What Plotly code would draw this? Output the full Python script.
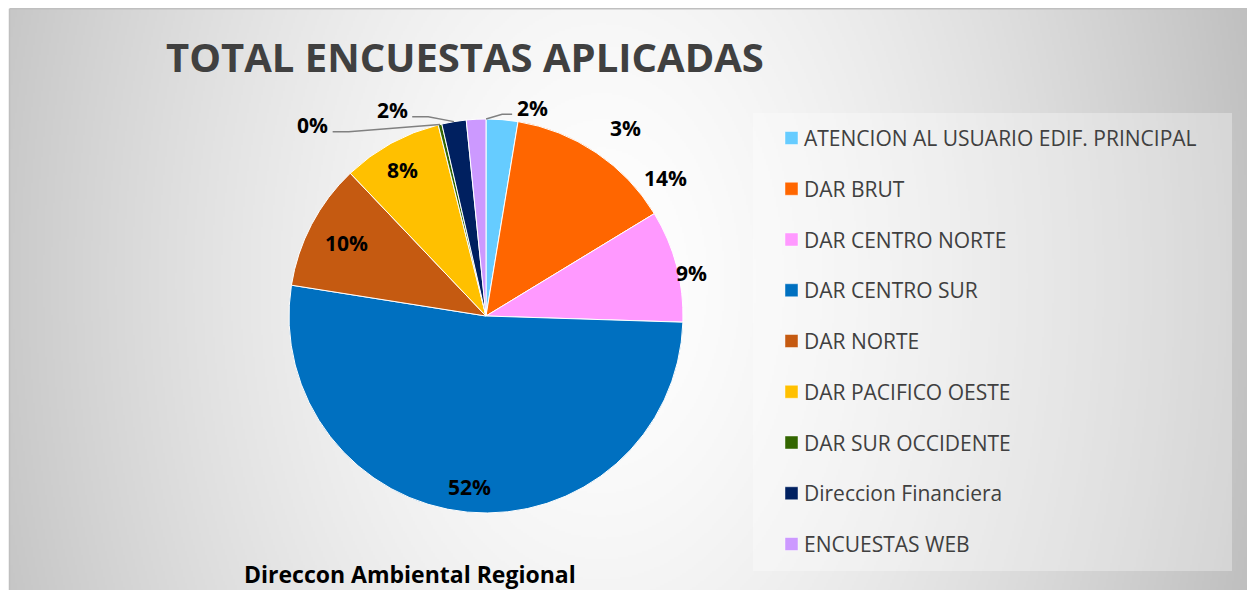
import base64
import math
import struct
import zlib

import numpy as np
import plotly.graph_objects as go

# ---------------- data ----------------
categories = [
    "ATENCION AL USUARIO EDIF. PRINCIPAL",
    "DAR BRUT",
    "DAR CENTRO NORTE",
    "DAR CENTRO SUR",
    "DAR NORTE",
    "DAR PACIFICO OESTE",
    "DAR SUR OCCIDENTE",
    "Direccion Financiera",
    "ENCUESTAS WEB",
]
values = [2.6, 13.7, 9.2, 52.0, 10.4, 8.2, 0.3, 2.0, 1.6]
colors = ["#66CCFF", "#FF6600", "#FF99FF", "#0070C0", "#C55A11",
          "#FFC000", "#336600", "#002060", "#CC99FF"]
title_text = "TOTAL ENCUESTAS APLICADAS"
subtitle_text = "Direccon Ambiental Regional"

# ---------------- style / layout constants ----------------
W, H = 1255, 590
OFF = 8                            # page body margin of the html page
CX, CY, R = 486, 316, 197          # pie centre / radius in page pixels
FONT = "Open Sans"

# per-label placement (angle offset in degrees from slice middle, radius factor)
label_angle_offset = [31.8, 18.4, 3.0, 0.0, 0.0, -1.1, -28.7, -15.1, 15.4]
label_radius = [1.19, 1.15, 1.066, 0.873, 0.80, 0.853, 1.31, 1.15, 1.08]
# leader line: None / 'left' / 'right' side of label, anchor angle offset
leader_side = [None, None, None, None, None, None, "right", "right", "left"]
leader_anchor = [0, 0, 0, 0, 0, 0, 0, 0, 2.9]
label_half_w = 15


def px2paper(px, py):
    """page pixel -> paper coordinates"""
    return (px - OFF) / W, 1 - (py - OFF) / H


# ---------------- background gradient (decoration) ----------------
def gray_png_uri(arr):
    h, w = arr.shape
    raw = b"".join(b"\x00" + arr[r].tobytes() for r in range(h))

    def chunk(tag, data):
        c = struct.pack(">I", len(data)) + tag + data
        return c + struct.pack(">I", zlib.crc32(tag + data) & 0xFFFFFFFF)

    png = b"\x89PNG\r\n\x1a\n"
    png += chunk(b"IHDR", struct.pack(">IIBBBBB", w, h, 8, 0, 0, 0, 0))
    png += chunk(b"IDAT", zlib.compress(raw, 9))
    png += chunk(b"IEND", b"")
    return "data:image/png;base64," + base64.b64encode(png).decode()


BG_PX0, BG_PY0 = 10, 8            # page pixel of the gradient's top-left
bw, bh = (W + OFF - BG_PX0) // 2, (H + OFF - BG_PY0) // 2
xs = (np.arange(bw) * 2 + BG_PX0)[None, :]
ys = (np.arange(bh) * 2 + BG_PY0)[:, None]
t = np.sqrt(((xs - 600) / 655.0) ** 2 + ((ys - 280) / 1000.0) ** 2)
t = np.clip(t, 0, 1.15)
bg = np.clip(255 - 61 * t ** 1.5, 0, 255).astype(np.uint8)
bg_uri = gray_png_uri(bg)

# ---------------- figure ----------------
fig = go.Figure()
d_x0, d_y1 = px2paper(CX - R, CY - R)
d_x1, d_y0 = px2paper(CX + R, CY + R)
fig.add_trace(go.Pie(
    labels=categories,
    values=values,
    marker=dict(colors=colors, line=dict(color="white", width=1)),
    sort=False,
    direction="clockwise",
    rotation=0,
    textinfo="none",
    hoverinfo="label+percent",
    showlegend=False,
    domain=dict(x=[d_x0, d_x1], y=[d_y0, d_y1]),
))

annotations = []
shapes = []

# percentage labels computed from data
total = sum(values)
cum = np.concatenate([[0], np.cumsum(values)]) / total * 360.0
for i, v in enumerate(values):
    pct = v / total * 100
    txt = f"{int(pct + 0.5)}%"
    mid = (cum[i] + cum[i + 1]) / 2
    ang = math.radians(mid + label_angle_offset[i])
    lx = CX + R * label_radius[i] * math.sin(ang)
    ly = CY - R * label_radius[i] * math.cos(ang)
    x, y = px2paper(lx, ly)
    annotations.append(dict(x=x, y=y, xref="paper", yref="paper", text=f"<b>{txt}</b>",
                            showarrow=False, xanchor="center", yanchor="middle",
                            font=dict(family=FONT, size=21, color="#000000")))
    if leader_side[i]:
        a = math.radians(mid + leader_anchor[i])
        sx = CX + R * math.sin(a)
        sy = CY - R * math.cos(a)
        if leader_side[i] == "right":
            p1 = (lx + label_half_w + 5, ly + 7)
            p2 = (p1[0] + 16, p1[1])
        else:
            p1 = (lx - label_half_w - 5, ly + 6)
            p2 = (p1[0] - 10, p1[1])
        pts = [px2paper(*p1), px2paper(*p2), px2paper(sx, sy)]
        path = "M {} {} L {} {} L {} {}".format(pts[0][0], pts[0][1], pts[1][0], pts[1][1],
                                                pts[2][0], pts[2][1])
        shapes.append(dict(type="path", path=path, xref="paper", yref="paper",
                           line=dict(color="#808080", width=1.5), layer="above"))

# title and bottom caption
tx, ty = px2paper(465, 56)
annotations.append(dict(x=tx, y=ty, xref="paper", yref="paper", text=f"<b>{title_text}</b>",
                        showarrow=False, xanchor="center", yanchor="middle",
                        font=dict(family=FONT, size=40, color="#404040")))
sx_, sy_ = px2paper(410, 574)
annotations.append(dict(x=sx_, y=sy_, xref="paper", yref="paper", text=f"<b>{subtitle_text}</b>",
                        showarrow=False, xanchor="center", yanchor="middle",
                        font=dict(family=FONT, size=23, color="#000000")))

# legend box (manual legend so row spacing matches)
LG_X0, LG_Y0, LG_X1, LG_Y1 = 753, 113, 1232, 571
x0, y0 = px2paper(LG_X0, LG_Y0)
x1, y1 = px2paper(LG_X1, LG_Y1)
shapes.append(dict(type="rect", xref="paper", yref="paper", x0=x0, y0=y0, x1=x1, y1=y1,
                   fillcolor="rgba(255,255,255,0.32)", line=dict(width=0), layer="above"))
ROW0, ROW_STEP, SQ_X, SQ = 138, 50.75, 785, 13
for i, (cat, col) in enumerate(zip(categories, colors)):
    ry = ROW0 + i * ROW_STEP
    a0 = px2paper(SQ_X, ry - SQ / 2)
    a1 = px2paper(SQ_X + SQ, ry + SQ / 2)
    shapes.append(dict(type="rect", xref="paper", yref="paper", x0=a0[0], y0=a0[1],
                       x1=a1[0], y1=a1[1], fillcolor=col,
                       line=dict(color="rgba(255,255,255,0.45)", width=1), layer="above"))
    tx_, ty_ = px2paper(SQ_X + SQ + 4, ry)
    annotations.append(dict(x=tx_, y=ty_, xref="paper", yref="paper", text=cat,
                            showarrow=False, xanchor="left", yanchor="middle",
                            font=dict(family=FONT, size=21, color="#404040")))

# chart-area frame (top and left edges)
fx0, _ = px2paper(9.5, 0)
fy0 = 1 - 0.75 / H
shapes.append(dict(type="line", xref="paper", yref="paper", x0=fx0, y0=fy0, x1=1, y1=fy0,
                   line=dict(color="#bfbfbf", width=1.5), layer="above"))
shapes.append(dict(type="line", xref="paper", yref="paper", x0=fx0, y0=fy0, x1=fx0, y1=0,
                   line=dict(color="#bfbfbf", width=1.5), layer="above"))

ix, iy = px2paper(BG_PX0, BG_PY0)
fig.update_layout(
    width=W, height=H, autosize=False,
    margin=dict(l=0, r=0, t=0, b=0),
    paper_bgcolor="white",
    plot_bgcolor="white",
    showlegend=False,
    annotations=annotations,
    shapes=shapes,
    images=[dict(source=bg_uri, xref="paper", yref="paper", x=ix, y=iy,
                 sizex=1 - ix, sizey=iy, xanchor="left", yanchor="top",
                 sizing="stretch", layer="below")],
)

fig.write_html("out.html")
